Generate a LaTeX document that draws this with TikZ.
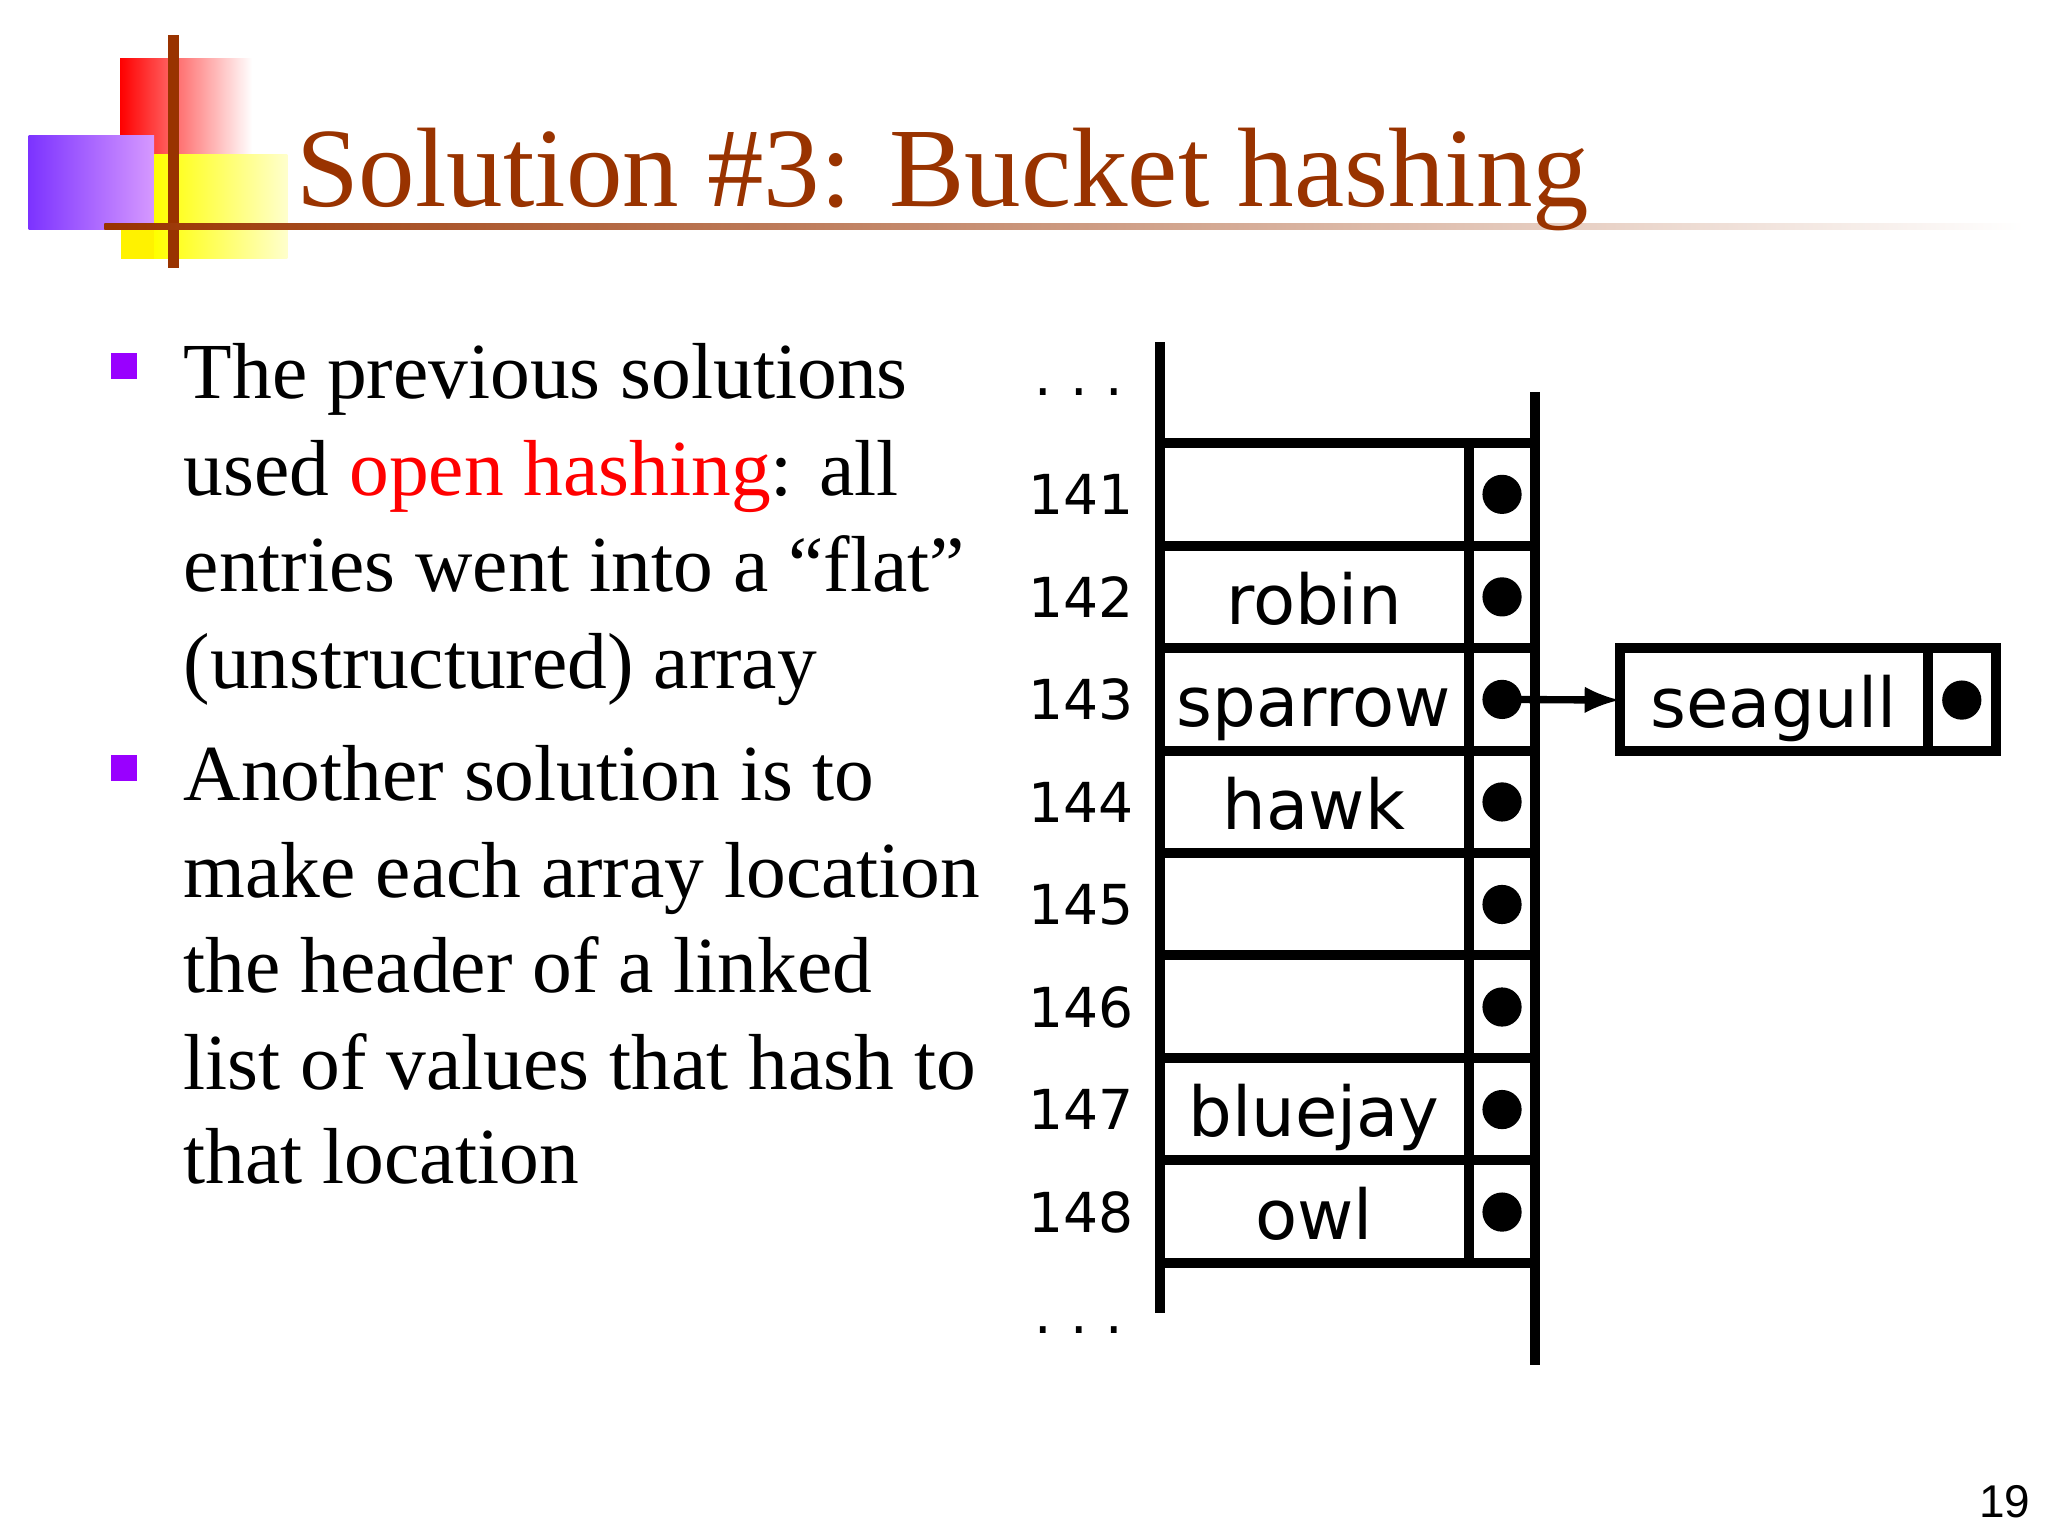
\documentclass[tikz,border=0pt]{standalone}
\usepackage{fontspec}
\setmainfont{Liberation Serif}
\newfontfamily\verd{DejaVu Sans}
\newfontfamily\arl{Liberation Sans}
\definecolor{brn}{RGB}{153,51,0}
\definecolor{purp}{RGB}{153,0,255}
\begin{document}
\begin{tikzpicture}[x=0.01cm,y=-0.01cm,
  cellline/.style={line width=2.2pt},
  ptr/.style={circle,fill=black,inner sep=0pt,minimum size=0.3cm},
  cell/.style={font=\verd\fontsize{15}{18}\selectfont,anchor=base,inner sep=0pt},
  num/.style={font=\verd\fontsize{12}{14}\selectfont,anchor=center},
  body/.style={font=\fontsize{17.3}{21}\selectfont,anchor=base west,inner sep=0pt}]
\useasboundingbox (0,0) rectangle (1568,1176);
\fill[white] (0,0) rectangle (1568,1176);
% logo
\shade[left color=red,right color=white] (92,45) rectangle (193,118);
\shade[left color=purp!60!blue!80,right color=purp!40] (22,104) rectangle (118,176);
\shade[left color=yellow,right color=yellow!20] (118,118) rectangle (220,198);
\fill[yellow] (93,176) rectangle (118,198);
\draw[brn,line width=2.5pt] (133,27) -- (133,205);
\shade[left color=brn,right color=white] (80,171) rectangle (1550,176);
\node[anchor=base west,inner sep=0pt,text=brn,font=\fontsize{24.6}{30}\selectfont] (title) at (226,158) {Solution \#3: Bucket hashing};
% bullets
\fill[purp] (85,270) rectangle (105,290);
\fill[purp] (85,578) rectangle (105,598);
\node[body] (l1) at (140,305) {The previous solutions};
\node[body] (l2) at (140,379) {used \textcolor{red}{open hashing}: all};
\node[body] (l3) at (140,453) {entries went into a “flat”};
\node[body] (l4) at (140,527) {(unstructured) array};
\node[body] (l5) at (140,613) {Another solution is to};
\node[body] (l6) at (140,687) {make each array location};
\node[body] (l7) at (140,760) {the header of a linked};
\node[body] (l8) at (140,834) {list of values that hash to};
\node[body] (l9) at (140,906) {that location};
% table
\draw[cellline] (888,262) -- (888,1005);
\draw[cellline] (1175,300) -- (1175,1045);
\draw[cellline] (1125,339) -- (1125,967);
\foreach \y in {339,418,496,575,653,731,810,888,967} \draw[cellline] (888,\y) -- (1175,\y);
\node[num] (dt) at (826,300) {.\,\,.\,\,.};
\node[num] (db) at (826,1018) {.\,\,.\,\,.};
\foreach \n/\w [count=\i from 0] in {141/,142/robin,143/sparrow,144/hawk,145/,146/,147/bluejay,148/owl}{
  \pgfmathsetmacro\yc{378.5+78.5*\i}
  \pgfmathsetmacro\yb{\yc+21}
  \node[num] (n\n) at (828,\yc) {\n};
  \node[cell] (c\n) at (1006,\yb) {\w};
  \node[ptr] (p\n) at (1150,\yc) {};
}
% seagull
\draw[cellline] (1240,496) rectangle (1528,575);
\draw[cellline] (1476,496) -- (1476,575);
\node[cell] (sg) at (1358,557) {seagull};
\node[ptr] (psg) at (1502,536) {};
\draw[line width=1.6pt,-latex] (p143.center) -- (1240,536);
\node[font=\arl\fontsize{10}{12}\selectfont] (pg) at (1535,1150) {19};
\end{tikzpicture}
\end{document}
